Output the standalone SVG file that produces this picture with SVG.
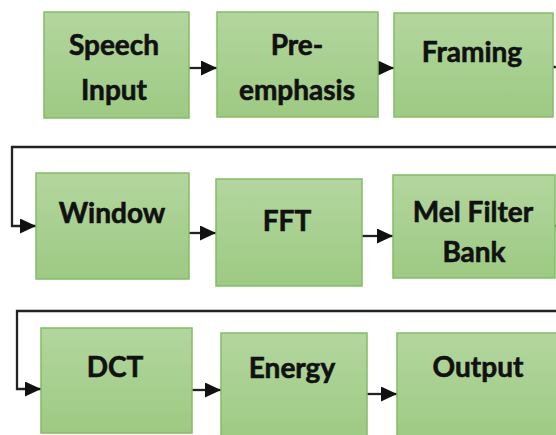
<svg xmlns="http://www.w3.org/2000/svg" width="556" height="435" viewBox="0 0 556 435">
<style>
.box{fill:url(#g);stroke:#84bc66;stroke-width:1.5}
.t{font-family:Lato,"Liberation Sans",sans-serif;font-weight:700;font-size:28px;fill:#111;stroke:#111;stroke-width:0.6;text-anchor:middle}
.c{fill:none;stroke:#222;stroke-width:2.3}
</style>
<defs>
<linearGradient id="g" x1="0" y1="0" x2="0" y2="1">
<stop offset="0" stop-color="#b3d69e"/>
<stop offset="1" stop-color="#9dca83"/>
</linearGradient>
<marker id="a" markerUnits="userSpaceOnUse" markerWidth="16" markerHeight="15" refX="16" refY="7.5" orient="auto">
<path d="M0,0 L16,7.5 L0,15 z" fill="#111"/>
</marker>
</defs>
<rect width="556" height="435" fill="#fff"/>
<g id="connectors">
<path class="c" d="M189,68 H217" marker-end="url(#a)"/>
<path class="c" d="M378,68 H394" marker-end="url(#a)"/>
<path class="c" d="M553,67 H562 V147 H12 V226 H36" marker-end="url(#a)"/>
<path class="c" d="M189,233 H216" marker-end="url(#a)"/>
<path class="c" d="M362,236 H393" marker-end="url(#a)"/>
<path class="c" d="M555,226 H562 V311 H17 V389 H41" marker-end="url(#a)"/>
<path class="c" d="M192,390 H221" marker-end="url(#a)"/>
<path class="c" d="M367,394 H397" marker-end="url(#a)"/>
</g>
<g id="speech-input"><rect class="box" x="44" y="12" width="145" height="106"/><text class="t" x="114" y="55">Speech</text><text class="t" x="114" y="100">Input</text></g>
<g id="pre-emphasis"><rect class="box" x="217" y="12" width="161" height="105"/><text class="t" x="297" y="55">Pre-</text><text class="t" x="297" y="100">emphasis</text></g>
<g id="framing"><rect class="box" x="394" y="13" width="159" height="104"/><text class="t" x="472" y="62">Framing</text></g>
<g id="window"><rect class="box" x="36" y="173" width="153" height="106"/><text class="t" x="112" y="223">Window</text></g>
<g id="fft"><rect class="box" x="216" y="179" width="146" height="107"/><text class="t" x="287" y="231">FFT</text></g>
<g id="mel-filter-bank"><rect class="box" x="393" y="175" width="162" height="103"/><text class="t" x="473" y="222">Mel Filter</text><text class="t" x="474" y="262">Bank</text></g>
<g id="dct"><rect class="box" x="41" y="328" width="151" height="105"/><text class="t" x="115" y="377">DCT</text></g>
<g id="energy"><rect class="box" x="221" y="333" width="146" height="110"/><text class="t" x="292" y="378">Energy</text></g>
<g id="output"><rect class="box" x="397" y="333" width="170" height="110"/><text class="t" x="478" y="377">Output</text></g>
</svg>
